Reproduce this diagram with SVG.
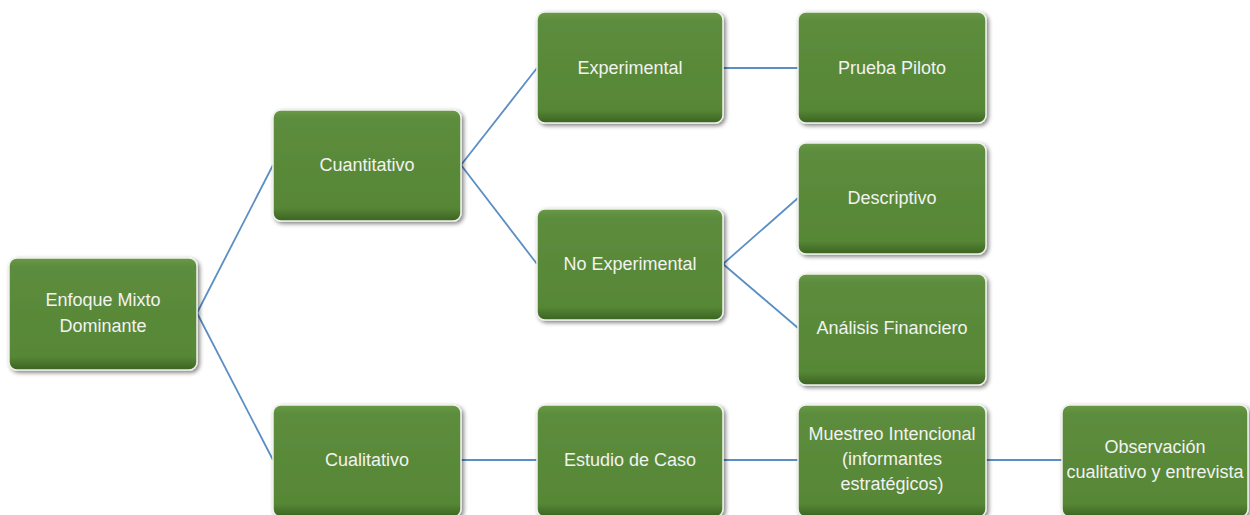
<svg xmlns="http://www.w3.org/2000/svg" width="1250" height="515" viewBox="0 0 1250 515">
<defs>
<linearGradient id="g" x1="0" y1="0" x2="0" y2="1">
<stop offset="0" stop-color="#6a9a48"/>
<stop offset="0.08" stop-color="#5c8c3c"/>
<stop offset="0.88" stop-color="#578736"/>
<stop offset="1" stop-color="#3a6322"/>
</linearGradient>
<filter id="sh" x="-10%" y="-10%" width="125%" height="125%">
<feGaussianBlur in="SourceAlpha" stdDeviation="2"/>
<feOffset dx="2" dy="2"/>
<feComponentTransfer><feFuncA type="linear" slope="0.5"/></feComponentTransfer>
<feMerge><feMergeNode/><feMergeNode in="SourceGraphic"/></feMerge>
</filter>
</defs>
<style>
.box{fill:url(#g);stroke:#eef2ea;stroke-width:1.5;filter:url(#sh)}
.t{font-family:"Liberation Sans",Arial,sans-serif;font-size:18px;fill:#f2f2f2;text-anchor:middle}
.c{stroke:#5b8fc4;stroke-width:1.8;fill:none}
</style>
<rect width="1250" height="515" fill="#ffffff"/>
<g id="connectors">
<line class="c" x1="197" y1="313" x2="273" y2="165"/>
<line class="c" x1="197" y1="313" x2="273" y2="460"/>
<line class="c" x1="461" y1="165" x2="537" y2="68"/>
<line class="c" x1="461" y1="165" x2="537" y2="264"/>
<line class="c" x1="723" y1="68" x2="798" y2="68"/>
<line class="c" x1="723" y1="264" x2="798" y2="198"/>
<line class="c" x1="723" y1="264" x2="798" y2="328"/>
<line class="c" x1="461" y1="460" x2="537" y2="460"/>
<line class="c" x1="723" y1="460" x2="798" y2="460"/>
<line class="c" x1="986" y1="460" x2="1062" y2="460"/>
</g>
<g id="enfoque"><rect class="box" x="9" y="258" width="188" height="112" rx="8"/><text class="t" x="103" y="306">Enfoque Mixto</text><text class="t" x="103" y="332">Dominante</text></g>
<g id="cuantitativo"><rect class="box" x="273" y="110" width="188" height="111" rx="8"/><text class="t" x="367" y="171">Cuantitativo</text></g>
<g id="cualitativo"><rect class="box" x="273" y="405" width="188" height="112" rx="8"/><text class="t" x="367" y="466">Cualitativo</text></g>
<g id="experimental"><rect class="box" x="537" y="12" width="186" height="111" rx="8"/><text class="t" x="630" y="74">Experimental</text></g>
<g id="noexperimental"><rect class="box" x="537" y="209" width="186" height="111" rx="8"/><text class="t" x="630" y="270">No Experimental</text></g>
<g id="estudio"><rect class="box" x="537" y="405" width="186" height="112" rx="8"/><text class="t" x="630" y="466">Estudio de Caso</text></g>
<g id="prueba"><rect class="box" x="798" y="12" width="188" height="111" rx="8"/><text class="t" x="892" y="74">Prueba Piloto</text></g>
<g id="descriptivo"><rect class="box" x="798" y="143" width="188" height="111" rx="8"/><text class="t" x="892" y="204">Descriptivo</text></g>
<g id="analisis"><rect class="box" x="798" y="274" width="188" height="111" rx="8"/><text class="t" x="892" y="334">Análisis Financiero</text></g>
<g id="muestreo"><rect class="box" x="798" y="405" width="188" height="112" rx="8"/><text class="t" x="892" y="440">Muestreo Intencional</text><text class="t" x="892" y="465">(informantes</text><text class="t" x="892" y="490">estratégicos)</text></g>
<g id="observacion"><rect class="box" x="1062" y="405" width="186" height="112" rx="8"/><text class="t" x="1155" y="453">Observación</text><text class="t" x="1155" y="478">cualitativo y entrevista</text></g>
</svg>
